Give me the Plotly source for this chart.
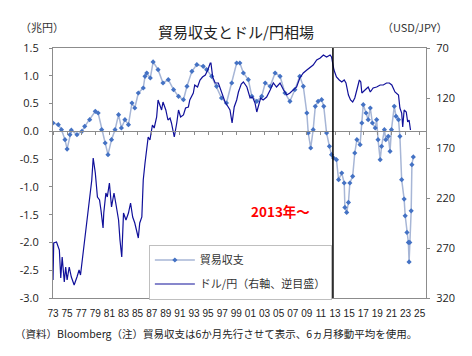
import plotly.graph_objects as go

# Trade balance (trillion yen, 6M MA, shifted 6 months ahead)
tb_x = [1973.0, 1973.75, 1974.2, 1974.7, 1975.0, 1975.4, 1975.6, 1976.4, 1977.1, 1977.5,
        1978.2, 1979.0, 1979.4, 1979.9, 1980.4, 1980.8, 1981.3, 1981.8, 1982.3, 1982.7,
        1983.2, 1983.7, 1984.2, 1984.6, 1985.1, 1985.8, 1986.05, 1986.3, 1986.8, 1987.2,
        1987.9, 1988.6, 1989.35, 1990.1, 1990.8, 1991.5, 1992.0, 1992.7, 1993.4, 1994.3,
        1994.8, 1995.5, 1996.2, 1996.9, 1997.6, 1998.35, 1999.05, 1999.5, 2000.0, 2000.7,
        2001.2, 2001.9, 2002.6, 2003.1, 2003.8, 2004.5, 2005.2, 2005.9, 2006.6, 2007.3,
        2008.0, 2008.5, 2009.0, 2009.2, 2009.55, 2009.9, 2010.2, 2010.6, 2011.1, 2011.4,
        2011.8, 2012.2, 2012.5, 2012.8, 2013.2, 2013.5, 2013.95, 2014.3, 2014.4, 2014.65,
        2014.9, 2015.1, 2015.5, 2015.8, 2016.1, 2016.55, 2016.8, 2017.0, 2017.4, 2017.7,
        2018.0, 2018.3, 2018.7, 2018.9, 2019.1, 2019.4, 2019.6, 2020.0, 2020.2, 2020.55,
        2020.8, 2021.0, 2021.4, 2021.65, 2022.0, 2022.2, 2022.45, 2022.8, 2022.95, 2023.2,
        2023.4, 2023.5, 2023.6, 2023.8, 2023.9, 2024.1]
tb_v = [0.15, 0.12, 0.03, -0.15, -0.32, -0.06, 0.02, -0.06, 0.0, 0.09,
        0.21, 0.36, 0.33, 0.03, -0.21, -0.42, -0.15, 0.03, 0.30, 0.06,
        0.21, 0.12, 0.51, 0.42, 0.69, 0.78, 0.99, 1.05, 0.96, 1.25,
        1.11, 0.87, 0.93, 0.75, 0.63, 0.57, 0.81, 1.08, 1.20, 1.17,
        1.11, 0.99, 0.81, 0.60, 0.51, 0.87, 1.23, 1.23, 1.05, 0.93,
        0.63, 0.54, 0.63, 0.87, 0.81, 1.05, 0.99, 0.69, 0.54, 0.75,
        0.99, 0.81, 0.33, -0.03, -0.30, 0.03, 0.45, 0.54, 0.57, 0.45,
        -0.03, -0.27, -0.42, -0.48, -0.51, -0.87, -0.75, -0.93, -1.37, -1.46,
        -1.28, -0.93, -0.81, -0.39, -0.15, -0.24, 0.15, 0.48, 0.33, 0.21,
        0.42, 0.15, 0.06, 0.21, -0.15, -0.51, -0.27, 0.03, -0.15, -0.09,
        -0.36, 0.03, 0.45, 0.27, 0.21, -0.09, -0.87, -1.22, -1.52, -1.82,
        -2.0, -2.35, -2.0, -1.43, -0.60, -0.46]

# USD/JPY (right axis, reversed)
fx_x = [1973.0, 1973.1, 1973.5, 1973.9, 1974.1, 1974.3, 1974.6, 1974.8, 1975.0, 1975.3,
        1975.6, 1976.0, 1976.4, 1976.7, 1976.9, 1977.2, 1977.5, 1977.8, 1978.15, 1978.5,
        1978.7, 1979.0, 1979.3, 1979.6, 1979.8, 1980.1, 1980.2, 1980.5, 1980.7, 1981.0,
        1981.3, 1981.65, 1981.9, 1982.3, 1982.5, 1982.75, 1983.0, 1983.35, 1983.7, 1984.0,
        1984.3, 1984.6, 1985.1, 1985.3, 1985.6, 1985.8, 1986.05, 1986.3, 1986.5, 1986.75,
        1987.1, 1987.35, 1987.7, 1987.9, 1988.2, 1988.4, 1988.6, 1989.0, 1989.3, 1989.6,
        1989.8, 1990.2, 1990.55, 1990.8, 1991.1, 1991.5, 1991.8, 1992.2, 1992.4, 1992.9,
        1993.1, 1993.5, 1993.85, 1994.2, 1994.6, 1994.95, 1995.3, 1995.4, 1995.65, 1996.0,
        1996.45, 1996.9, 1997.4, 1997.85, 1998.1, 1998.4, 1998.7, 1999.05, 1999.3, 1999.7,
        2000.0, 2000.5, 2000.95, 2001.3, 2001.65, 2001.9, 2002.1, 2002.45, 2002.8, 2003.3,
        2003.8, 2004.25, 2004.7, 2005.2, 2005.7, 2006.15, 2006.6, 2007.1, 2007.55, 2008.0,
        2008.5, 2009.0, 2009.45, 2009.9, 2010.4, 2010.9, 2011.35, 2011.8, 2012.3, 2012.5,
        2012.85, 2013.2, 2013.6, 2013.95, 2014.3, 2014.55, 2014.9, 2015.2, 2015.5, 2015.8,
        2016.2, 2016.45, 2016.65, 2016.8, 2017.25, 2017.7, 2018.0, 2018.4, 2018.9, 2019.4,
        2019.85, 2020.3, 2020.7, 2021.05, 2021.5, 2022.0, 2022.2, 2022.45, 2022.6, 2022.8,
        2023.1, 2023.3, 2023.5, 2023.7]
fx_v = [302, 265, 264, 272, 300, 279, 304, 289, 302, 289,
        299, 307, 299, 292, 297, 279, 265, 245, 225, 202,
        180, 195, 219, 222, 232, 250, 235, 215, 219, 205,
        229, 215, 225, 242, 262, 279, 235, 242, 235, 225,
        239, 245, 260, 245, 239, 202, 185, 169, 159, 162,
        147, 150, 139, 122, 127, 132, 124, 132, 142, 140,
        145, 159, 145, 132, 139, 137, 130, 129, 122, 115,
        107, 109, 102, 99, 97, 92, 85, 85, 99, 105,
        105, 115, 124, 129, 132, 145, 129, 122, 114, 106,
        104, 109, 120, 119, 125, 134, 129, 120, 122, 119,
        112, 105, 109, 105, 112, 117, 115, 112, 109, 100,
        95, 92, 89, 87, 82, 80, 77, 79, 77, 79,
        92, 99, 102, 104, 102, 105, 117, 122, 124, 120,
        109, 102, 104, 115, 112, 109, 114, 110, 109, 107,
        107, 105, 105, 107, 114, 117, 130, 135, 149, 132,
        134, 144, 142, 152]

year_ticks = list(range(1973, 2026, 2))
year_labels = [f"{y % 100:02d}" for y in year_ticks]
left_ticks = [1.5, 1.0, 0.5, 0.0, -0.5, -1.0, -1.5, -2.0, -2.5, -3.0]
right_ticks = [70, 120, 170, 220, 270, 320]
marker_year = 2012.7

JP = "Noto Sans CJK JP"
AX = "#8C8C8C"

fig = go.Figure()
fig.add_trace(go.Scatter(
    x=tb_x, y=tb_v, name="貿易収支", mode="lines+markers",
    line=dict(color="#A7B6D6", width=1.5),
    marker=dict(color="#4472C4", size=4, symbol="diamond"),
    legendgroup="a", yaxis="y"))
fig.add_trace(go.Scatter(
    x=fx_x, y=fx_v, name="ドル/円（右軸、逆目盛）", mode="lines",
    line=dict(color="#10109A", width=1.2),
    legendgroup="b", yaxis="y2"))
# invisible helper trace to carry the zero-line tick axis
fig.add_trace(go.Scatter(x=tb_x, y=tb_v, xaxis="x2", yaxis="y", mode="lines",
                         line=dict(width=0), opacity=0, showlegend=False,
                         hoverinfo="skip"))

fig.add_shape(type="line", x0=marker_year, x1=marker_year, y0=0, y1=1,
              xref="x", yref="paper", line=dict(color="black", width=1.5))

fig.add_annotation(x=2005.3, y=-1.44, xref="x", yref="y", text="<b>2013年～</b>",
                   showarrow=False, yanchor="middle",
                   font=dict(family=JP, size=13.5, color="#FF0000"))

fig.add_annotation(x=0.49, y=1.064, xref="paper", yref="paper", text="貿易収支とドル/円相場",
                   showarrow=False, yanchor="middle",
                   font=dict(family=JP, size=15, color="#222"))
fig.add_annotation(x=-0.094, y=1.084, xref="paper", yref="paper", text="（兆円）",
                   xanchor="left", yanchor="middle", showarrow=False,
                   font=dict(family=JP, size=11, color="#333"))
fig.add_annotation(x=1.064, y=1.084, xref="paper", yref="paper", text="（USD/JPY）",
                   xanchor="right", yanchor="middle", showarrow=False,
                   font=dict(family=JP, size=11, color="#333"))
fig.add_annotation(x=-0.107, y=-0.14, xref="paper", yref="paper",
                   text="（資料）Bloomberg（注）貿易収支は6か月先行させて表示、6ヵ月移動平均を使用。",
                   xanchor="left", yanchor="middle", showarrow=False,
                   font=dict(family=JP, size=10.5, color="#222"))

fig.update_layout(
    width=472, height=356,
    margin=dict(l=53, r=46, t=48, b=58, autoexpand=False),
    paper_bgcolor="white", plot_bgcolor="white",
    font=dict(family=JP, color="#222"),
    showlegend=True,
    legend=dict(x=0.257, y=0.214, xanchor="left", yanchor="top",
                bordercolor="#BFBFBF", borderwidth=1, bgcolor="white",
                font=dict(family=JP, size=11, color="#333"),
                tracegroupgap=5, itemwidth=40),
    xaxis=dict(range=[1973, 2025.9], tickmode="array", tickvals=year_ticks,
               ticktext=year_labels, showgrid=False, zeroline=False,
               showline=True, linecolor=AX, mirror=True, ticks="",
               tickangle=0, automargin=False, ticklabelstandoff=6,
               tickfont=dict(family="Liberation Sans", size=10, color="#222")),
    xaxis2=dict(range=[1973, 2025.9], overlaying="x", anchor="free",
                position=3.0 / 4.5, tickmode="array", tickvals=year_ticks,
                showticklabels=False, showgrid=False, zeroline=False,
                showline=True, linecolor=AX, ticks="outside", ticklen=3,
                tickcolor=AX, side="bottom", automargin=False),
    yaxis=dict(range=[-3.0, 1.5], tickmode="array", tickvals=left_ticks,
               ticktext=[f"{v:.1f}" for v in left_ticks], showgrid=False,
               zeroline=False, showline=True, linecolor=AX, ticks="outside",
               ticklen=3, tickcolor=AX, automargin=False, ticklabelstandoff=8,
               tickfont=dict(family="Open Sans", size=11, color="#222")),
    yaxis2=dict(range=[320, 70], overlaying="y", side="right", tickmode="array",
                tickvals=right_ticks, showgrid=False, zeroline=False,
                showline=True, linecolor=AX, ticks="outside", ticklen=3,
                tickcolor=AX, automargin=False, ticklabelstandoff=4,
                tickfont=dict(family="Open Sans", size=11, color="#222")),
)

fig.write_html("out.html", config={"displayModeBar": False},
               post_script="document.body.style.margin='0';document.body.style.overflow='hidden';")
